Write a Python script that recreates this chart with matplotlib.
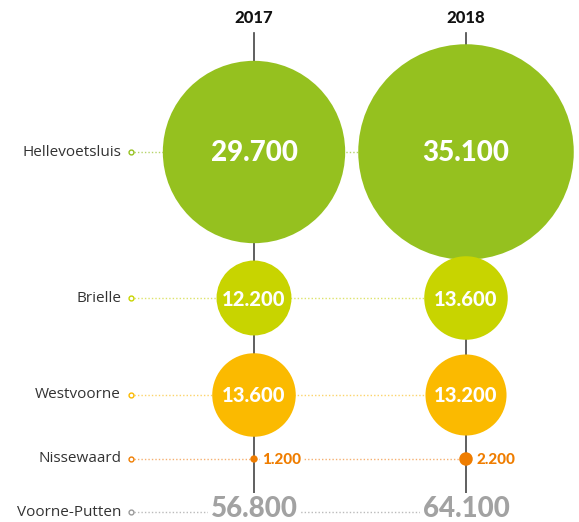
import matplotlib.pyplot as plt
from matplotlib.patches import Circle

# data
regions = ['Hellevoetsluis', 'Brielle', 'Westvoorne', 'Nissewaard']
years = ['2017', '2018']
values_2017 = [29700, 12200, 13600, 1200]
values_2018 = [35100, 13600, 13200, 2200]
totals = [56800, 64100]

colors = ['#95c11f', '#c8d400', '#fbba00', '#ef7d00']
dot_colors = ['#b5d46a', '#dde36a', '#fcd46a', '#f5b070']
total_color = '#a2a2a2'

def fmt(v):
    return f'{v:,}'.replace(',', '.')

# layout (pixels)
W, H = 579, 522
col_x = [254, 466]
row_y = [152, 298, 395, 459]
total_y = 509
label_x = 121
marker_x = 131
scale = 0.00307  # radius in px per unit

fig = plt.figure(figsize=(W / 100, H / 100), dpi=100)
ax = fig.add_axes([0, 0, 1, 1])
ax.set_xlim(0, W)
ax.set_ylim(H, 0)
ax.axis('off')

# year headers and vertical axes
for x, yr in zip(col_x, years):
    ax.text(x, 18, yr, ha='center', va='center', fontsize=12,
            fontweight='black', family='Lato', color='#111111')
    ax.plot([x, x], [33, 495], color='#444444', lw=1.2, zorder=1)

# rows
for i, region in enumerate(regions):
    y = row_y[i]
    ax.text(label_x, y, region, ha='right', va='center', fontsize=11,
            family='Open Sans', color='#333333')
    ax.plot([marker_x + 3, col_x[1]], [y, y], color=dot_colors[i], lw=1,
            ls=(0, (1, 1.5)), zorder=0)
    ax.plot(marker_x, y, 'o', ms=3.5, mfc='white', mec=colors[i], mew=1, zorder=2)
    for j, vals in enumerate([values_2017, values_2018]):
        v = vals[i]
        r = v * scale
        ax.add_patch(Circle((col_x[j], y), r, color=colors[i], zorder=3, lw=0))
        if r > 20:
            fs = 20 if r > 60 else 14.5
            ax.text(col_x[j], y + 1, fmt(v), ha='center', va='center',
                    fontsize=fs, fontweight='black', family='Lato',
                    color='white', zorder=4)
        else:
            ax.text(col_x[j] + r + 4, y + 1, fmt(v), ha='left', va='center',
                    fontsize=11, fontweight='black', family='Lato',
                    color=colors[i], zorder=4,
                    bbox=dict(facecolor='white', edgecolor='none', pad=1.5))

# totals row
ax.text(label_x, total_y + 3, 'Voorne-Putten', ha='right', va='center',
        fontsize=11, family='Open Sans', color='#333333')
ax.plot([marker_x + 3, col_x[1]], [total_y + 3, total_y + 3], color='#bbbbbb', lw=1,
        ls=(0, (1, 1.5)), zorder=0)
ax.plot(marker_x, total_y + 3, 'o', ms=3.5, mfc='white', mec='#999999', mew=1, zorder=2)
for x, t in zip(col_x, totals):
    ax.text(x, total_y, fmt(t), ha='center', va='center', fontsize=20,
            fontweight='black', family='Lato', color=total_color, zorder=4,
            bbox=dict(facecolor='white', edgecolor='none', pad=2))

fig.savefig('out.png', dpi=100)
